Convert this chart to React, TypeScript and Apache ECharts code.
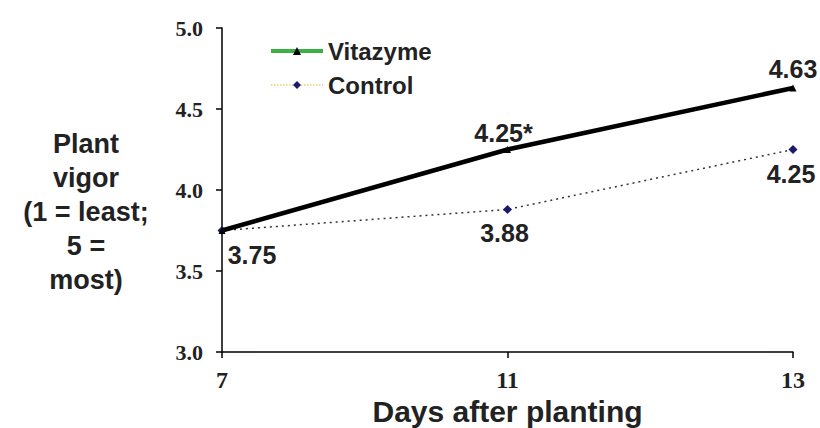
import React, { useEffect, useRef } from "react";
import * as echarts from "echarts";

const days = ["7", "11", "13"];
const vitazyme = [3.75, 4.25, 4.63];
const control = [3.75, 3.88, 4.25];
const vitazymeLabels = ["", "4.25*", "4.63"];
const controlLabels = ["3.75", "3.88", "4.25"];

const SANS = "Liberation Sans, Arial, sans-serif";
const SERIF = "Liberation Serif, Times New Roman, serif";
const INK = "#222";

export default function App() {
  const ref = useRef<HTMLDivElement>(null);
  useEffect(() => {
    const chart = echarts.init(ref.current!, undefined, { renderer: "svg" });
    const vitData = vitazyme.map((v, i) => ({
      value: v,
      label: {
        show: vitazymeLabels[i] !== "",
        formatter: vitazymeLabels[i],
        position: "top",
        offset: i === 1 ? [-4, 4] : [0, 2],
      },
    }));
    const ctlData = control.map((v, i) => ({
      value: v,
      label: {
        show: true,
        formatter: controlLabels[i],
        position: "bottom",
        offset: i === 0 ? [30, 2] : i === 1 ? [-3, 2] : [-2, 2],
      },
    }));
    chart.setOption({
      animation: false,
      backgroundColor: "#fff",
      grid: {
        left: 222,
        right: 27,
        top: 28,
        bottom: 76,
        containLabel: false,
        outerBoundsMode: "none",
      },
      legend: {
        left: 264,
        top: 34,
        orient: "vertical",
        itemGap: 10,
        itemWidth: 52,
        itemHeight: 10,
        textStyle: { fontFamily: SANS, fontWeight: "bold", fontSize: 24, color: INK },
        data: [
          {
            name: "Vitazyme",
            itemStyle: { color: "#000" },
            lineStyle: { color: "#3cb043", width: 4, type: "solid" },
          },
          {
            name: "Control",
            itemStyle: { color: "#1a1a6e" },
            lineStyle: { color: "#e6d36a", width: 1.5, type: "dotted" },
          },
        ],
      },
      xAxis: {
        type: "category",
        data: days,
        boundaryGap: false,
        name: "Days after planting",
        nameLocation: "middle",
        nameGap: 43,
        nameTextStyle: { fontFamily: SANS, fontWeight: "bold", fontSize: 30, color: INK },
        axisLine: { lineStyle: { color: "#000", width: 1.5 } },
        axisTick: { show: true, length: 6, lineStyle: { color: "#000", width: 1.5 } },
        axisLabel: { fontFamily: SERIF, fontWeight: "bold", fontSize: 24, color: INK, margin: 16 },
        splitLine: { show: false },
      },
      yAxis: {
        type: "value",
        min: 3.0,
        max: 5.0,
        interval: 0.5,
        axisLine: { show: true, lineStyle: { color: "#000", width: 1.5 } },
        axisTick: { show: true, length: 6, lineStyle: { color: "#000", width: 1.5 } },
        axisLabel: {
          fontFamily: SERIF,
          fontWeight: "bold",
          fontSize: 22,
          color: INK,
          margin: 19,
          formatter: (v: number) => v.toFixed(1),
        },
        splitLine: { show: false },
      },
      graphic: [
        {
          type: "text",
          x: 86,
          y: 127,
          style: {
            text: "Plant\nvigor\n(1 = least;\n5 =\nmost)",
            align: "center",
            textAlign: "center",
            verticalAlign: "top",
            fontFamily: SANS,
            fontWeight: "bold",
            fontSize: 27,
            lineHeight: 34,
            fill: INK,
          },
        },
      ],
      series: [
        {
          name: "Control",
          type: "line",
          data: ctlData,
          symbol: "diamond",
          symbolSize: 9,
          itemStyle: { color: "#1a1a6e" },
          lineStyle: { color: "#333", width: 1.5, type: [2, 4] },
          label: { fontFamily: SANS, fontWeight: "bold", fontSize: 25, color: INK },
          z: 2,
        },
        {
          name: "Vitazyme",
          type: "line",
          data: vitData,
          symbol: "triangle",
          symbolSize: 7,
          itemStyle: { color: "#000" },
          lineStyle: { color: "#000", width: 4.5 },
          label: { fontFamily: SANS, fontWeight: "bold", fontSize: 25, color: INK },
          z: 3,
        },
      ],
    });
    return () => chart.dispose();
  }, []);
  return (
    <div
      ref={ref}
      style={{ position: "fixed", left: 0, top: 0, width: 820, height: 428 }}
    />
  );
}
